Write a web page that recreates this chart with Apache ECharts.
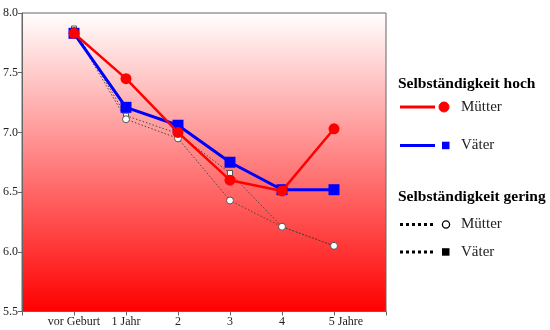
<!DOCTYPE html>
<html>
<head>
<meta charset="utf-8">
<script src="https://cdn.jsdelivr.net/npm/echarts@6/dist/echarts.min.js"></script>
<style>html,body{margin:0;padding:0;background:#fff}#c{width:550px;height:330px}</style>
</head>
<body>
<div id="c"></div>
<script>
const categories = ['vor Geburt', '1 Jahr', '2', '3', '4', '5 Jahre'];
const yTicks = [5.5, 6.0, 6.5, 7.0, 7.5, 8.0];
const hochMuetter = [7.83, 7.45, 7.00, 6.60, 6.51, 7.03];
const hochVaeter = [7.83, 7.21, 7.06, 6.75, 6.52, 6.52];
const geringMuetter = [7.85, 7.11, 6.95, 6.43, 6.21, 6.05];
const geringVaeter = [7.87, 7.14, 6.99, 6.66, 6.21, 6.05];

const FONT = 'Liberation Serif';
const toPts = arr => arr.map((v, i) => [i + 1, v]);

const chart = echarts.init(document.getElementById('c'), null, {renderer: 'canvas'});

function legendItem(y, lineType, color, symbol, label) {
  const els = [];
  if (lineType === 'solid') {
    els.push({type: 'line', shape: {x1: 400, y1: y, x2: 435, y2: y}, style: {stroke: color, lineWidth: 3}});
  } else {
    els.push({type: 'line', shape: {x1: 400, y1: y, x2: 434, y2: y}, style: {stroke: '#000', lineWidth: 3, lineDash: [3, 3]}});
  }
  if (symbol === 'circle') {
    els.push({type: 'circle', shape: {cx: 444, cy: y, r: 5}, style: {fill: color, stroke: color, lineWidth: 1}});
  } else if (symbol === 'ocircle') {
    els.push({type: 'circle', shape: {cx: 446, cy: y, r: 3.6}, style: {fill: '#fff', stroke: '#000', lineWidth: 1.3}});
  } else {
    els.push({type: 'rect', shape: {x: 442, y: y - 3.8, width: 7.5, height: 7.5}, style: {fill: color}});
  }
  els.push({type: 'text', style: {x: 461, y: y, text: label, fill: '#222', font: '15px ' + FONT, textVerticalAlign: 'middle'}});
  return els;
}

const graphics = [
  {type: 'text', style: {x: 398, y: 84, text: 'Selbständigkeit hoch', fill: '#000', font: 'bold 15.5px ' + FONT, textVerticalAlign: 'middle'}},
  ...legendItem(107, 'solid', '#ff0000', 'circle', 'Mütter'),
  ...legendItem(145.5, 'solid', '#0000ff', 'square', 'Väter'),
  {type: 'text', style: {x: 398, y: 197, text: 'Selbständigkeit gering', fill: '#000', font: 'bold 15.5px ' + FONT, textVerticalAlign: 'middle'}},
  ...legendItem(224.5, 'dotted', '#000', 'ocircle', 'Mütter'),
  ...legendItem(252, 'dotted', '#000', 'square', 'Väter')
];

chart.setOption({
  animation: false,
  backgroundColor: '#fff',
  textStyle: {fontFamily: FONT},
  grid: {
    left: 22, right: 164, top: 13, bottom: 18.5,
    show: true,
    borderColor: '#666',
    borderWidth: 1,
    backgroundColor: {
      type: 'linear', x: 0, y: 0, x2: 0, y2: 1,
      colorStops: [{offset: 0, color: '#ffffff'}, {offset: 1, color: '#ff0000'}]
    }
  },
  xAxis: {
    type: 'value', min: 0, max: 7, interval: 1,
    axisLine: {show: true, lineStyle: {color: '#666'}},
    axisTick: {show: true, length: 4, lineStyle: {color: '#666'}},
    splitLine: {show: false},
    axisLabel: {
      margin: 4,
      color: '#222', fontSize: 12, fontFamily: FONT,
      formatter: v => {
        const i = Math.round(v) - 1;
        if (i < 0 || i >= categories.length) return '';
        if (i === categories.length - 1) return '{r|' + categories[i] + '}';
        return categories[i];
      },
      rich: {r: {padding: [0, 0, 0, 24], fontSize: 12, fontFamily: FONT, color: '#222'}}
    }
  },
  yAxis: {
    type: 'value', min: yTicks[0], max: yTicks[yTicks.length - 1], interval: 0.5,
    axisLine: {show: true, lineStyle: {color: '#666'}},
    axisTick: {show: true, length: 4, lineStyle: {color: '#666'}},
    splitLine: {show: false},
    axisLabel: {margin: 4, color: '#222', fontSize: 12, fontFamily: FONT, formatter: v => v.toFixed(1)}
  },
  graphic: graphics,
  series: [
    {
      name: 'gering Väter', type: 'line', data: toPts(geringVaeter), z: 2,
      symbol: 'rect', symbolSize: 5,
      itemStyle: {color: '#fff', borderColor: '#555', borderWidth: 1},
      lineStyle: {color: '#444', width: 1, type: [1.5, 2]}
    },
    {
      name: 'gering Mütter', type: 'line', data: toPts(geringMuetter), z: 3,
      symbol: 'circle', symbolSize: 7,
      itemStyle: {color: '#fff', borderColor: '#555', borderWidth: 1},
      lineStyle: {color: '#444', width: 1, type: [1.5, 2]}
    },
    {
      name: 'hoch Väter', type: 'line', data: toPts(hochVaeter), z: 4,
      symbol: 'rect', symbolSize: 11,
      itemStyle: {color: '#0000ff'},
      lineStyle: {color: '#0000ff', width: 3}
    },
    {
      name: 'hoch Mütter', type: 'line', data: toPts(hochMuetter), z: 5,
      symbol: 'circle', symbolSize: 11,
      itemStyle: {color: '#ff0000'},
      lineStyle: {color: '#ff0000', width: 2.5}
    }
  ]
});
</script>
</body>
</html>
